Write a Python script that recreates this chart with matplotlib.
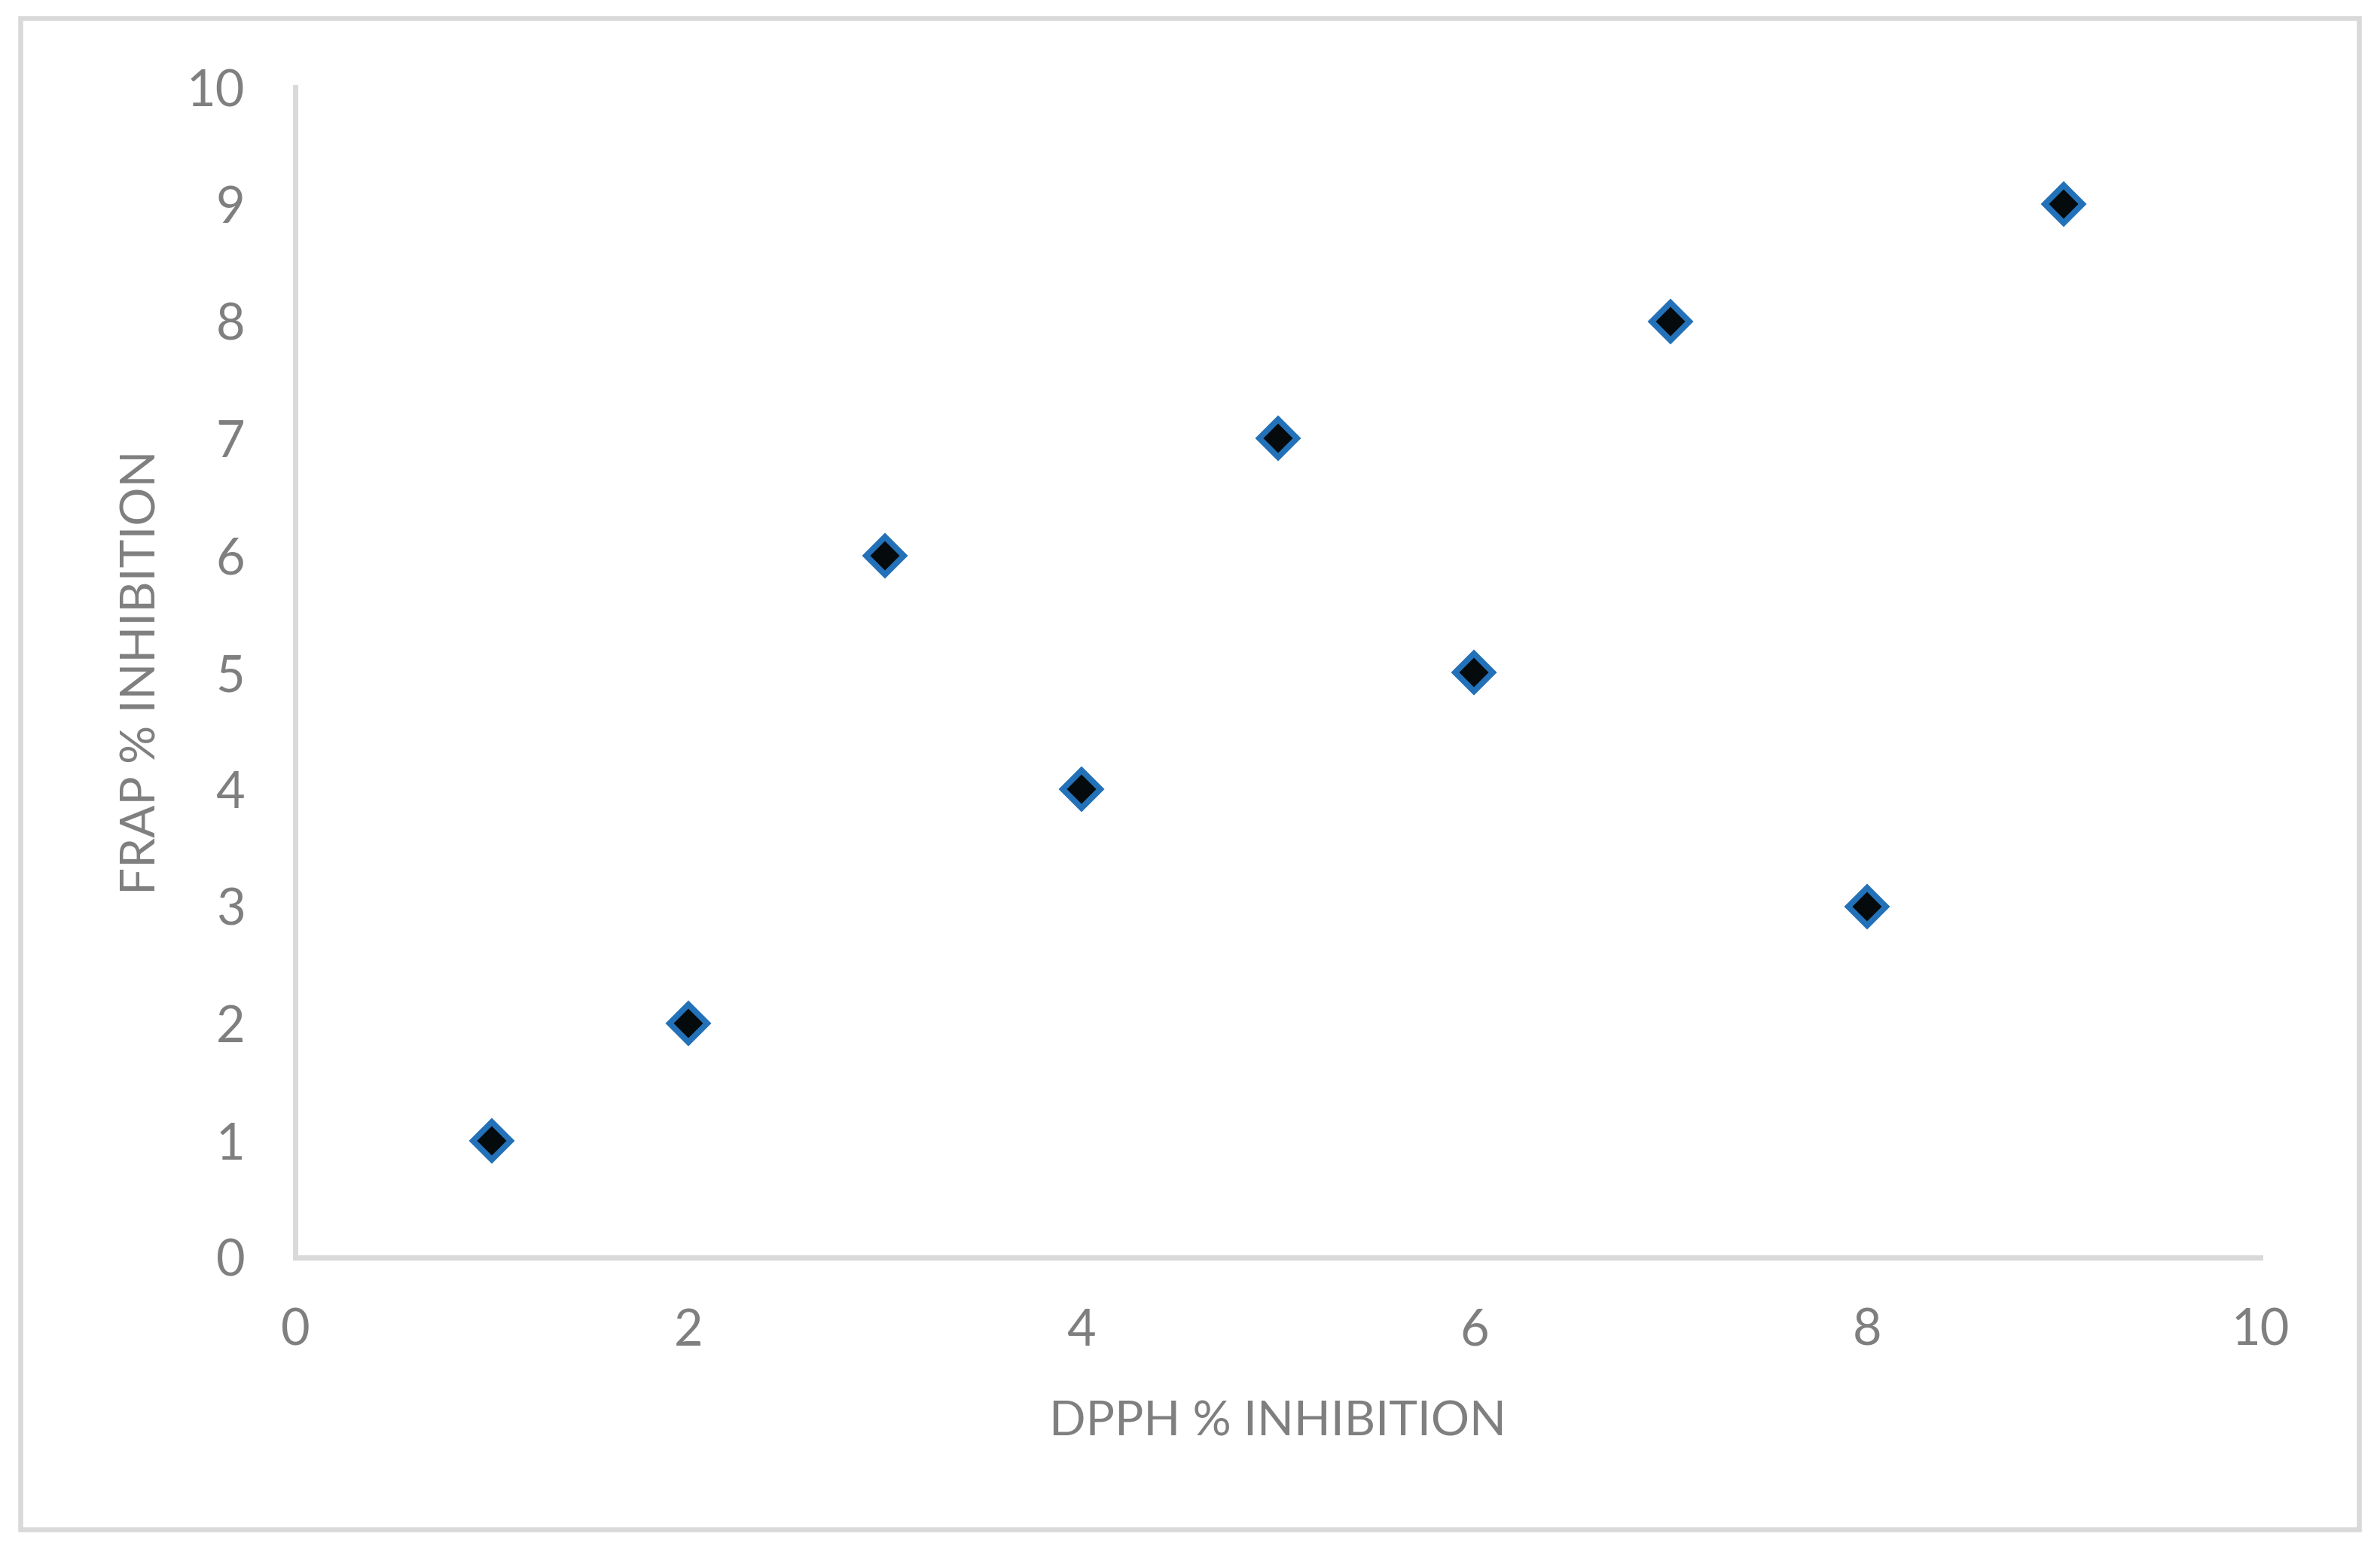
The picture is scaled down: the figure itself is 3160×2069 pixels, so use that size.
import matplotlib
matplotlib.use('Agg')
import matplotlib.pyplot as plt
from matplotlib.patches import Rectangle

dpph = [1, 2, 3, 4, 5, 6, 7, 8, 9]
frap = [1, 2, 6, 4, 7, 5, 8, 3, 9]
ticks = [0, 2, 4, 6, 8, 10]
yticks = [0, 1, 2, 3, 4, 5, 6, 7, 8, 9, 10]

grey = '#7f7f7f'
plt.rcParams['font.family'] = ['Lato', 'DejaVu Sans']

fig = plt.figure(figsize=(15.8, 10.345), dpi=200)
ax = fig.add_axes([0.12405, 0.19285, 0.9497 - 0.12405, 0.94393 - 0.19285])

ax.plot(dpph, frap, linestyle='none', marker='D', markersize=12.5,
        markerfacecolor='#050a0c', markeredgecolor='#2371b8', markeredgewidth=2.8,
        clip_on=False)

ax.set_xlim(0, 10)
ax.set_ylim(0, 10)
ax.set_xticks(ticks)
ax.set_yticks(yticks)
ax.tick_params(length=0, labelsize=24, labelcolor=grey, pad=24)
for s in ['top', 'right']:
    ax.spines[s].set_visible(False)
for s in ['left', 'bottom']:
    ax.spines[s].set_color('#d9d9d9')
    ax.spines[s].set_linewidth(2.5)

ax.set_xlabel('DPPH % INHIBITION', fontsize=23, color=grey, labelpad=22)
ax.set_ylabel('FRAP % INHIBITION', fontsize=23, color=grey, labelpad=11)

# chart area border
fig.patches.append(Rectangle((0.0084, 0.01837), 0.991 - 0.0084, 0.9884 - 0.01837,
                             transform=fig.transFigure, fill=False,
                             edgecolor='#d9d9d9', linewidth=2.34))

fig.savefig('out.png', dpi=200)
